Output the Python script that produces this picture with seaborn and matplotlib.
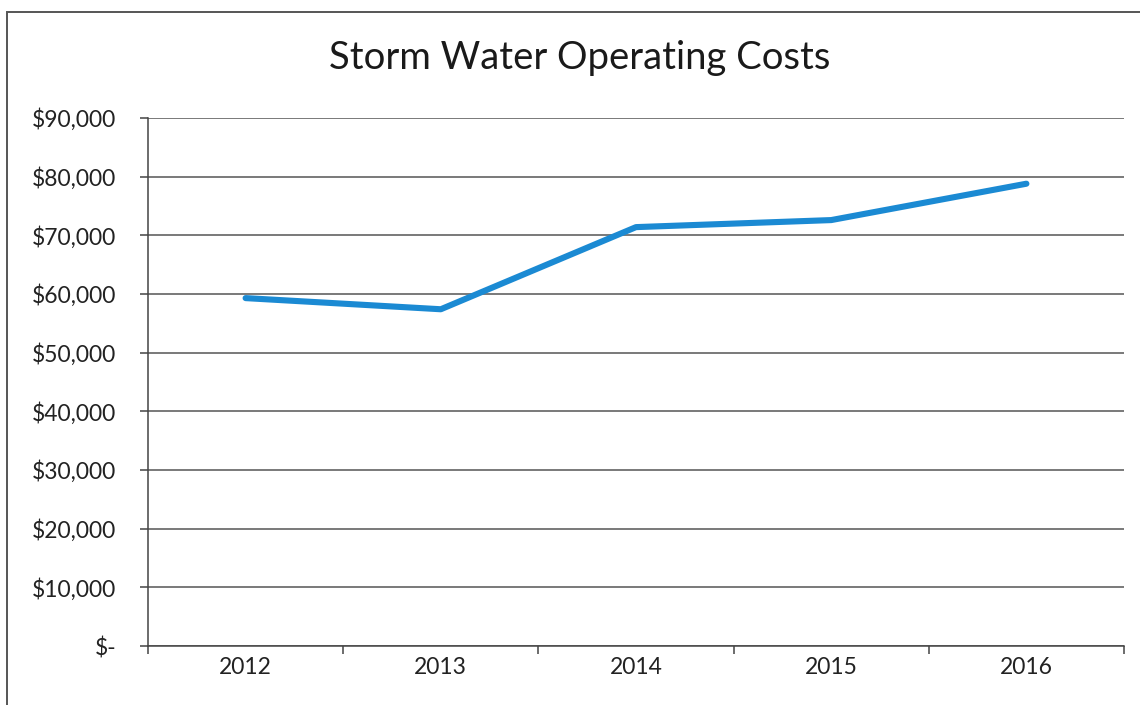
import matplotlib
matplotlib.use("Agg")
import matplotlib.pyplot as plt
from matplotlib.patches import Rectangle
from matplotlib.ticker import FuncFormatter, FixedLocator
import seaborn as sns
import pandas as pd

years = ["2012", "2013", "2014", "2015", "2016"]
costs = [59300, 57400, 71400, 72600, 78800]
title = "Storm Water Operating Costs"

sns.set_theme(style="white")
plt.rcParams["font.family"] = ["Lato", "DejaVu Sans"]

df = pd.DataFrame({"year": years, "cost": costs})

fig = plt.figure(figsize=(11.4, 7.05), dpi=100)
ax = fig.add_axes([148 / 1140, 1 - 646 / 705, (1124 - 148) / 1140, (646 - 118) / 705])

sns.lineplot(data=df, x="year", y="cost", ax=ax, color="#1b8ad3",
             linewidth=4.4, solid_capstyle="round", solid_joinstyle="round")

ax.set_xlim(-0.5, len(years) - 0.5)
ax.set_ylim(0, 90000)
ax.set_yticks(range(0, 90001, 10000))
ax.yaxis.set_major_formatter(FuncFormatter(
    lambda v, p: "$-" if v == 0 else f"${v:,.0f}"))
ax.grid(axis="y", color="#555555", linewidth=1.1)
ax.grid(axis="x", visible=False)
ax.set_xlabel("")
ax.set_ylabel("")

# category labels at centres, tick marks at category boundaries
ax.set_xticks(range(len(years)))
ax.set_xticklabels(years)
ax.xaxis.set_minor_locator(FixedLocator([i - 0.5 for i in range(len(years) + 1)]))
ax.tick_params(axis="x", which="major", length=0, pad=8, labelsize=16.5, labelcolor="#222222")
ax.tick_params(axis="x", which="minor", bottom=True, length=6, width=1.1, color="#444444")
ax.tick_params(axis="y", which="major", left=True, length=6, width=1.1, color="#444444",
               pad=17, labelsize=16.5, labelcolor="#222222")

for side in ["top", "right"]:
    ax.spines[side].set_visible(False)
for side in ["left", "bottom"]:
    ax.spines[side].set_color("#444444")
    ax.spines[side].set_linewidth(1.1)

fig.text(580 / 1140, 1 - 58 / 705, title, ha="center", va="center",
         fontsize=27.5, color="#1a1a1a")

# chart frame
fig.patches.append(Rectangle((7 / 1140, -0.1), 1.2, 1 - 12 / 705 + 0.1,
                             transform=fig.transFigure, fill=False,
                             edgecolor="#555555", linewidth=1.4))

fig.savefig("out.png", dpi=100, facecolor="white")
